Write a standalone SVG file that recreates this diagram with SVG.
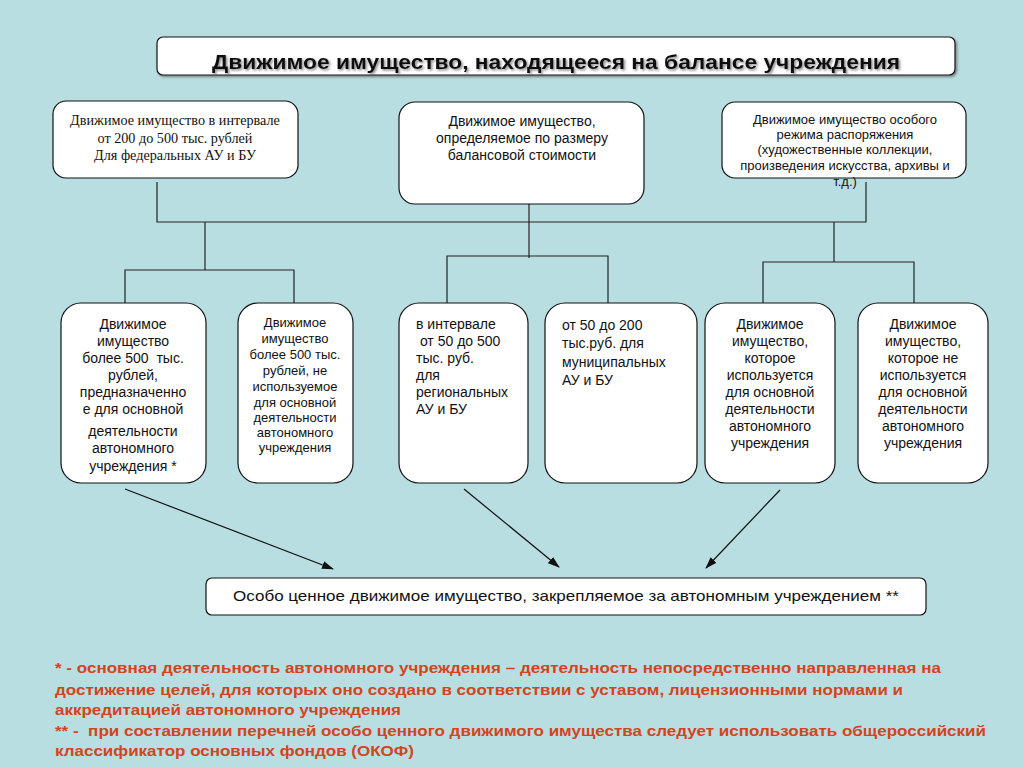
<svg xmlns="http://www.w3.org/2000/svg" width="1024" height="768" viewBox="0 0 1024 768">
<defs>
<filter id="sh" x="-5%" y="-20%" width="110%" height="150%"><feDropShadow dx="1.5" dy="1.5" stdDeviation="0.8" flood-color="#555" flood-opacity="0.7"/></filter>
<marker id="ah" viewBox="0 0 12 10" refX="11" refY="5" markerWidth="12" markerHeight="10" markerUnits="userSpaceOnUse" orient="auto"><path d="M0,1 L12,5 L0,9 z" fill="#111"/></marker>
</defs>
<style>
.bx{fill:#fff;stroke:#111;stroke-width:1.2}
.t{font-family:"Liberation Sans",Arial,sans-serif;font-size:14px;fill:#111}
.t13{font-size:13px}
.tc{text-anchor:middle}
.s{font-family:"Liberation Serif","Times New Roman",serif;font-size:14.2px;fill:#111;text-anchor:middle}
.ln{stroke:#222;stroke-width:1.2;fill:none}
.ar{stroke:#111;stroke-width:1.2;fill:none;marker-end:url(#ah)}
.note{font-family:"Liberation Sans",Arial,sans-serif;font-size:15px;font-weight:bold;fill:#D4441C}
</style>
<rect width="1024" height="768" fill="#B9DEE2"/>
<g id="title">
<rect class="bx" x="157" y="37" width="798" height="38" rx="6" filter="url(#sh)"/>
<text x="556" y="69" text-anchor="middle" font-family="Liberation Sans,Arial,sans-serif" font-size="21" font-weight="bold" fill="#111" filter="url(#sh)" textLength="688" lengthAdjust="spacingAndGlyphs">Движимое имущество, находящееся на балансе учреждения</text>
</g>
<g id="connectors">
<path class="ln" d="M157,182 V222 H866 V182"/>
<path class="ln" d="M529,180 V258"/>
<path class="ln" d="M205,222 V270"/>
<path class="ln" d="M125,303 V270 H294 V303"/>
<path class="ln" d="M447,303 V256 H608 V303"/>
<path class="ln" d="M834,222 V262"/>
<path class="ln" d="M763,303 V262 H914 V303"/>
<line class="ar" x1="125" y1="489" x2="333" y2="569"/>
<line class="ar" x1="464" y1="489" x2="559" y2="567"/>
<line class="ar" x1="780" y1="490" x2="706" y2="568"/>
</g>
<g id="n-top-left">
<rect class="bx" x="53" y="101" width="245" height="77" rx="13"/>
<text class="s" x="175" y="125">Движимое имущество в интервале</text>
<text class="s" x="175" y="143">от 200 до 500 тыс. рублей</text>
<text class="s" x="175" y="160">Для федеральных АУ и БУ</text>
</g>
<g id="n-top-mid">
<rect class="bx" x="399" y="102" width="245" height="102" rx="16"/>
<text class="t tc" x="522" y="126">Движимое имущество,</text>
<text class="t tc" x="522" y="143">определяемое по размеру</text>
<text class="t tc" x="522" y="160">балансовой стоимости</text>
</g>
<g id="n-top-right">
<rect class="bx" x="722" y="102" width="244" height="76" rx="13"/>
<g class="t t13 tc">
<text x="845" y="124">Движимое имущество особого</text>
<text x="845" y="139">режима распоряжения</text>
<text x="845" y="154">(художественные коллекции,</text>
<text x="845" y="170">произведения искусства, архивы и</text>
<text x="845" y="186">т.д.)</text>
</g>
</g>
<g id="n1">
<rect class="bx" x="61" y="303" width="145" height="180" rx="20"/>
<g class="t tc">
<text x="133" y="329">Движимое</text>
<text x="133" y="346">имущество</text>
<text x="133" y="363" xml:space="preserve">более 500  тыс.</text>
<text x="133" y="380">рублей,</text>
<text x="133" y="397">предназначенно</text>
<text x="133" y="414">е для основной</text>
<text x="133" y="436">деятельности</text>
<text x="133" y="453">автономного</text>
<text x="133" y="471">учреждения *</text>
</g>
</g>
<g id="n2">
<rect class="bx" x="238" y="303" width="115" height="180" rx="20"/>
<g class="t t13 tc">
<text x="295" y="327">Движимое</text>
<text x="295" y="343">имущество</text>
<text x="295" y="359">более 500 тыс.</text>
<text x="295" y="375">рублей, не</text>
<text x="295" y="391">используемое</text>
<text x="295" y="407">для основной</text>
<text x="295" y="422">деятельности</text>
<text x="295" y="437">автономного</text>
<text x="295" y="452">учреждения</text>
</g>
</g>
<g id="n3">
<rect class="bx" x="399" y="303" width="129" height="180" rx="20"/>
<g class="t">
<text x="416" y="329">в интервале</text>
<text x="416" y="346" xml:space="preserve"> от 50 до 500</text>
<text x="416" y="363">тыс. руб.</text>
<text x="416" y="380">для</text>
<text x="416" y="397">региональных</text>
<text x="416" y="414">АУ и БУ</text>
</g>
</g>
<g id="n4">
<rect class="bx" x="545" y="303" width="152" height="180" rx="20"/>
<g class="t">
<text x="562" y="330">от 50 до 200</text>
<text x="562" y="348">тыс.руб. для</text>
<text x="562" y="367">муниципальных</text>
<text x="562" y="385">АУ и БУ</text>
</g>
</g>
<g id="n5">
<rect class="bx" x="705" y="303" width="130" height="180" rx="20"/>
<g class="t tc">
<text x="770" y="329">Движимое</text>
<text x="770" y="346">имущество,</text>
<text x="770" y="363">которое</text>
<text x="770" y="380">используется</text>
<text x="770" y="397">для основной</text>
<text x="770" y="414">деятельности</text>
<text x="770" y="431">автономного</text>
<text x="770" y="448">учреждения</text>
</g>
</g>
<g id="n6">
<rect class="bx" x="858" y="303" width="130" height="180" rx="20"/>
<g class="t tc">
<text x="923" y="329">Движимое</text>
<text x="923" y="346">имущество,</text>
<text x="923" y="363">которое не</text>
<text x="923" y="380">используется</text>
<text x="923" y="397">для основной</text>
<text x="923" y="414">деятельности</text>
<text x="923" y="431">автономного</text>
<text x="923" y="448">учреждения</text>
</g>
</g>
<g id="n-bottom">
<rect class="bx" x="206" y="578" width="720" height="37" rx="6"/>
<text class="t tc" x="566" y="601" style="font-size:15px" textLength="666" lengthAdjust="spacingAndGlyphs">Особо ценное движимое имущество, закрепляемое за автономным учреждением **</text>
</g>
<g id="notes">
<text class="note" x="55" y="673" textLength="886" lengthAdjust="spacingAndGlyphs">* - основная деятельность автономного учреждения – деятельность непосредственно направленная на</text>
<text class="note" x="55" y="695" textLength="848" lengthAdjust="spacingAndGlyphs">достижение целей, для которых оно создано в соответствии с уставом, лицензионными нормами и</text>
<text class="note" x="55" y="715" textLength="346" lengthAdjust="spacingAndGlyphs">аккредитацией автономного учреждения</text>
<text class="note" x="55" y="736" textLength="931" lengthAdjust="spacingAndGlyphs" xml:space="preserve">** -  при составлении перечней особо ценного движимого имущества следует использовать общероссийский</text>
<text class="note" x="55" y="756" textLength="359" lengthAdjust="spacingAndGlyphs">классификатор основных фондов (ОКОФ)</text>
</g>
</svg>
